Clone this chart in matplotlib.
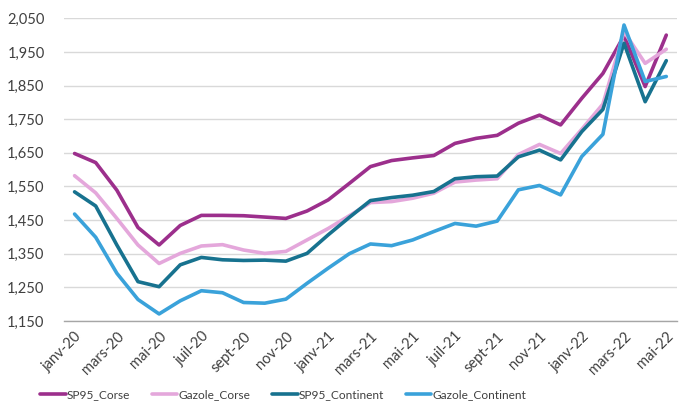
import matplotlib
matplotlib.use("Agg")
import matplotlib.pyplot as plt
import numpy as np

plt.rcParams['font.family'] = ['Lato', 'DejaVu Sans']

months = ["janv-20", "févr-20", "mars-20", "avr-20", "mai-20", "juin-20", "juil-20", "août-20",
          "sept-20", "oct-20", "nov-20", "déc-20", "janv-21", "févr-21", "mars-21", "avr-21",
          "mai-21", "juin-21", "juil-21", "août-21", "sept-21", "oct-21", "nov-21", "déc-21",
          "janv-22", "févr-22", "mars-22", "avr-22", "mai-22"]

sp95_corse = [1.648, 1.621, 1.539, 1.428, 1.376, 1.434, 1.464, 1.464, 1.463, 1.459, 1.455, 1.477,
              1.510, 1.559, 1.609, 1.627, 1.635, 1.642, 1.678, 1.693, 1.702, 1.738, 1.762, 1.733,
              1.812, 1.886, 1.998, 1.847, 2.000]
gazole_corse = [1.582, 1.531, 1.455, 1.376, 1.321, 1.351, 1.373, 1.377, 1.361, 1.351, 1.357, 1.391,
                1.425, 1.463, 1.502, 1.505, 1.515, 1.530, 1.563, 1.569, 1.573, 1.645, 1.675, 1.648,
                1.720, 1.795, 2.010, 1.916, 1.958]
sp95_continent = [1.534, 1.492, 1.376, 1.267, 1.252, 1.317, 1.339, 1.332, 1.330, 1.331, 1.328, 1.351,
                  1.406, 1.458, 1.508, 1.517, 1.524, 1.535, 1.573, 1.579, 1.581, 1.638, 1.658, 1.629,
                  1.713, 1.779, 1.976, 1.802, 1.924]
gazole_continent = [1.468, 1.399, 1.292, 1.214, 1.171, 1.210, 1.240, 1.234, 1.205, 1.203, 1.215, 1.262,
                    1.307, 1.350, 1.379, 1.374, 1.391, 1.416, 1.440, 1.432, 1.447, 1.540, 1.553, 1.525,
                    1.639, 1.705, 2.030, 1.862, 1.877]

series = [("SP95_Corse", sp95_corse, "#9C2F8C"),
          ("Gazole_Corse", gazole_corse, "#E4A7DB"),
          ("SP95_Continent", sp95_continent, "#17728F"),
          ("Gazole_Continent", gazole_continent, "#3AA2DA")]

yticks = [1.150, 1.250, 1.350, 1.450, 1.550, 1.650, 1.750, 1.850, 1.950, 2.050]

fig = plt.figure(figsize=(6.83, 4.01), dpi=100)
ax = fig.add_axes([0.0937, 0.1995, 0.8973, 0.7549])

x = np.arange(len(months))
for name, vals, col in series:
    ax.plot(x, vals, color=col, lw=2.6, label=name, solid_capstyle='round', solid_joinstyle='round')

ax.set_xlim(-0.5, len(months) - 0.5)
ax.set_ylim(1.150, 2.050)
ax.set_yticks(yticks)
ax.set_yticklabels([f"{v:.3f}".replace(".", ",") for v in yticks])
ax.set_xticks(x[::2])
ax.set_xticklabels(months[::2], rotation=45, ha='right', rotation_mode='anchor')

ax.grid(axis='y', color='#D9D9D9', lw=1)
ax.set_axisbelow(True)
for s in ['top', 'right', 'left']:
    ax.spines[s].set_visible(False)
ax.spines['bottom'].set_color('#A6A6A6')
ax.spines['bottom'].set_linewidth(1)
ax.tick_params(axis='both', length=0, labelsize=10.5, colors='#404040')
ax.tick_params(axis='y', pad=14)
ax.tick_params(axis='x', pad=6)

leg = fig.legend(loc='center', bbox_to_anchor=(0.415, 0.016), ncol=4, frameon=False,
                 fontsize=8.6, handlelength=2.1, handletextpad=0.1, columnspacing=1.85,
                 borderpad=0.0)
for t in leg.get_texts():
    t.set_color('#404040')

fig.savefig("out.png", dpi=100)
